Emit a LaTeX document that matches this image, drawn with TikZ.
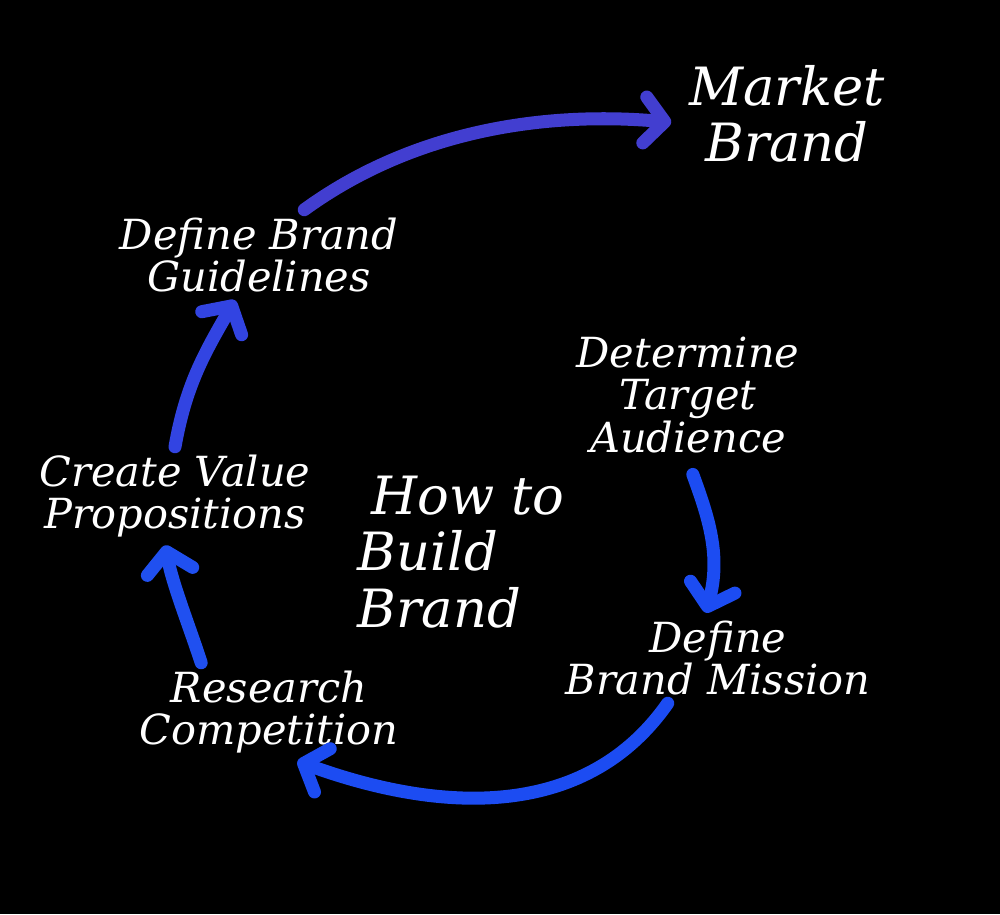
\documentclass[tikz,border=0pt]{standalone}
\usepackage{fontspec}
\setmainfont{DejaVu Serif}
\usepackage{tikz}
\usetikzlibrary{arrows.meta,positioning}
\definecolor{arrA}{RGB}{66,62,208}
\definecolor{arrB}{RGB}{50,68,226}
\definecolor{arrC}{RGB}{32,80,240}
\definecolor{arrD}{RGB}{28,76,242}

\begin{document}
\begin{tikzpicture}[x=0.01cm, y=0.01cm,
  lbl/.style={align=center, text=white, inner sep=2pt,
              font=\fontsize{11.8}{12.2}\selectfont\itshape},
  big/.style={align=center, text=white, inner sep=2pt,
              font=\fontsize{15}{16}\selectfont\itshape},
  arr/.style={line width=3.7pt, line cap=round,
              -{Straight Barb[length=2mm, width=4.6mm, round]}},
  >=Stealth
]

  %--- Background ---
  \fill[black] (0,0) rectangle (1000,914);

  %--- Steps ---
  \node[big] (market) at (787, 800) {Market\\Brand};
  \node[lbl] (guide)  at (259, 659) {Define Brand\\Guidelines};
  \node[lbl] (target) at (688, 519) {Determine\\Target\\Audience};
  \node[lbl] (value)  at (175, 418) {Create Value\\Propositions};
  \node[lbl] (mission) at (718, 256) {Define\\Brand Mission};
  \node[lbl] (rival)  at (269, 202) {Research\\Competition};

  % Title
  \node[big, align=left, anchor=west] (title) at (350, 362)
       {\hspace*{4pt}How to\\Build\\Brand};

  %--- Arrows ---
  \draw[arr, arrA, shorten >=3pt] (guide.45) to[out=36, in=175, looseness=0.9] (market.185);
  \draw[arr, arrB] (value.north) to[out=80, in=240] (guide.242);
  \draw[arr, arrC] (rival.144) to[out=108, in=-80, looseness=0.8] (value.259);
  \draw[arr, arrD] (mission.222) to[out=235, in=-20] (rival.300);
  \draw[arr, arrD, shorten <=4pt] (target.south) to[out=-70, in=75] (mission.105);

\end{tikzpicture}
\end{document}
